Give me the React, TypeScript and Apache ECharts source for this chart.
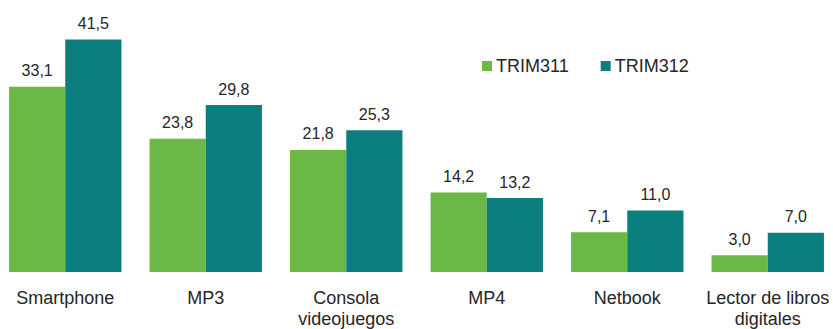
import React, { useEffect, useRef } from "react";
import * as echarts from "echarts";

const categories = [
  "Smartphone",
  "MP3",
  "Consola\nvideojuegos",
  "MP4",
  "Netbook",
  "Lector de libros\ndigitales",
];
const trim311 = [33.1, 23.8, 21.8, 14.2, 7.1, 3.0];
const trim312 = [41.5, 29.8, 25.3, 13.2, 11.0, 7.0];
const seriesNames = ["TRIM311", "TRIM312"];
const colors = ["#6AB946", "#0B7F7D"];

export default function App() {
  const ref = useRef<HTMLDivElement>(null);
  useEffect(() => {
    if (!ref.current) return;
    const chart = echarts.init(ref.current, undefined, { renderer: "svg" });
    const font = "'Liberation Sans', Arial, sans-serif";
    const label = {
      show: true,
      position: "top",
      distance: 8,
      fontSize: 16,
      color: "#262626",
      fontFamily: font,
      formatter: (p: any) => Number(p.value).toFixed(1).replace(".", ","),
    };
    chart.setOption({
      animation: false,
      color: colors,
      grid: { left: 0, right: 0, top: 20, bottom: 53, containLabel: false },
      legend: {
        left: 487,
        top: 57,
        padding: 0,
        itemWidth: 10,
        itemHeight: 10,
        itemGap: 32,
        icon: "rect",
        textStyle: { fontSize: 18, color: "#262626", fontFamily: font, padding: [0, 0, 0, -1] },
        data: seriesNames,
      },
      xAxis: {
        type: "category",
        data: categories,
        axisLine: { show: false },
        axisTick: { show: false },
        axisLabel: {
          fontSize: 18,
          color: "#262626",
          fontFamily: font,
          margin: 15,
          lineHeight: 21,
          interval: 0,
        },
      },
      yAxis: {
        type: "value",
        min: 0,
        max: 45,
        show: false,
        splitLine: { show: false },
      },
      series: [
        {
          name: seriesNames[0],
          type: "bar",
          data: trim311,
          barGap: "0%",
          barCategoryGap: "20%",
          label,
        },
        {
          name: seriesNames[1],
          type: "bar",
          data: trim312,
          barGap: "0%",
          barCategoryGap: "20%",
          label,
        },
      ],
    });
    return () => chart.dispose();
  }, []);
  return (
    <div
      ref={ref}
      style={{ position: "absolute", left: -5, top: 0, width: 843, height: 329 }}
    />
  );
}
